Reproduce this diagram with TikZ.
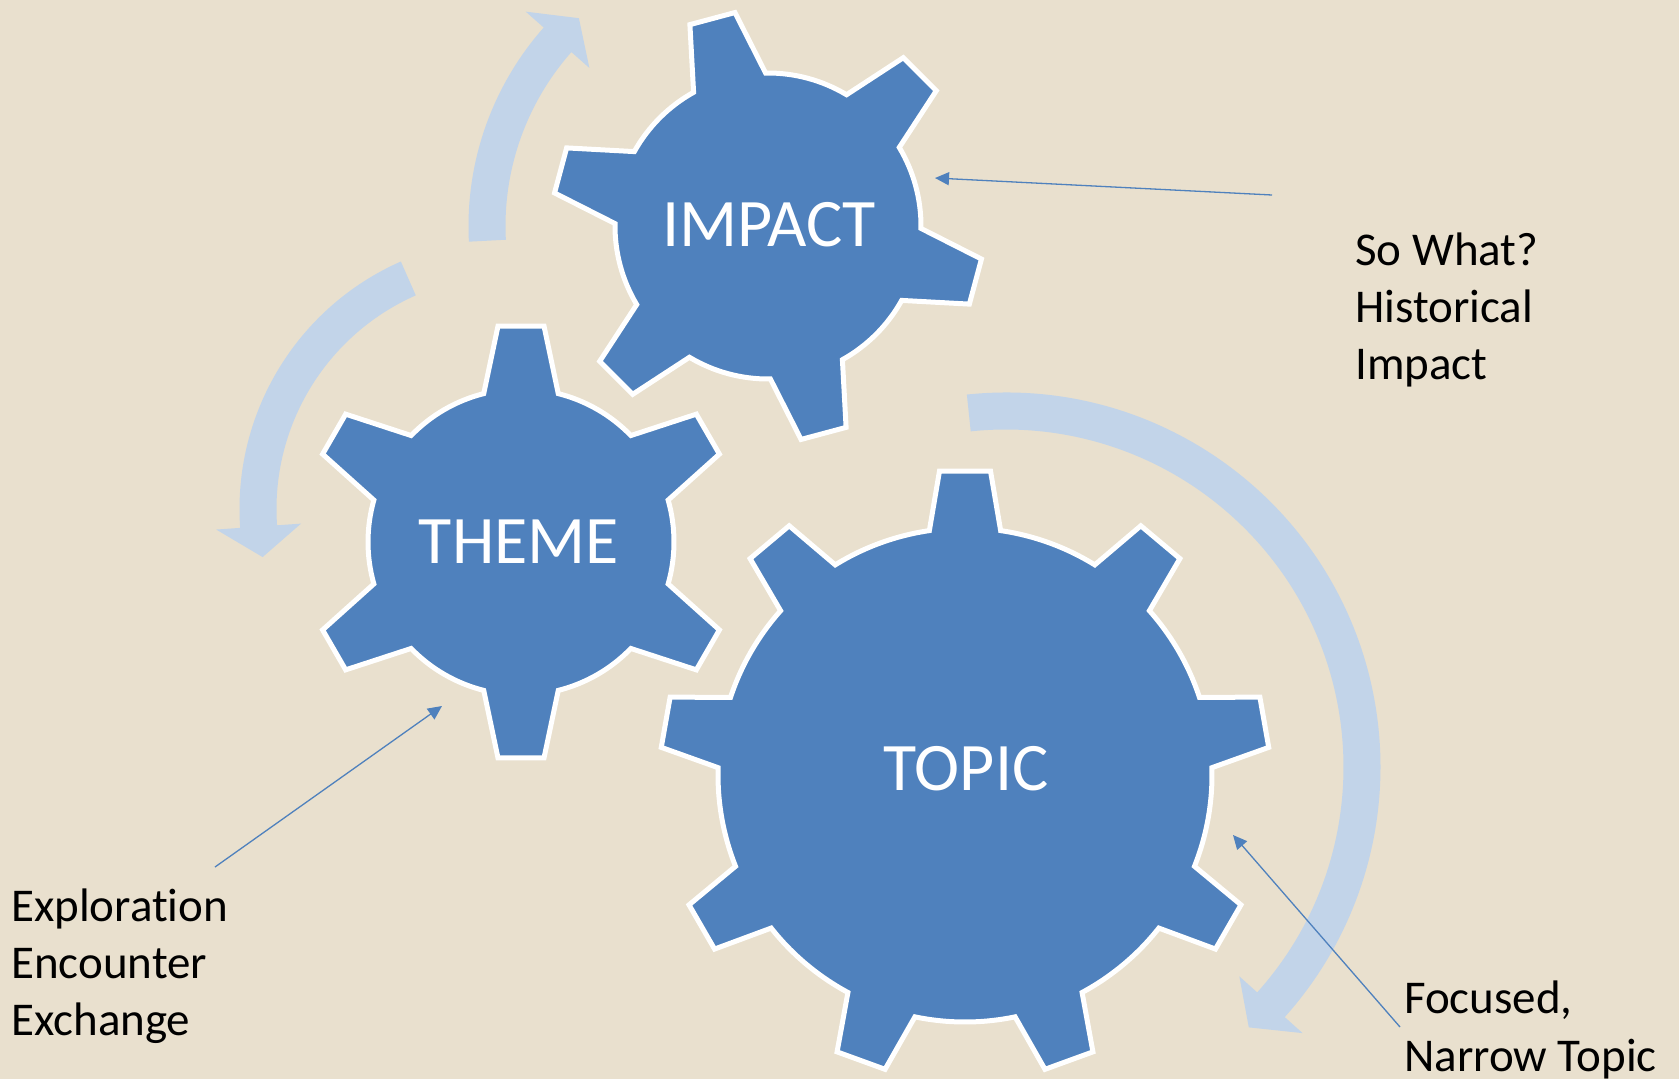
\documentclass[tikz,border=0pt]{standalone}
\usepackage{fontspec}
\setmainfont{Carlito}[RawFeature=-liga]
\usetikzlibrary{arrows.meta}
\definecolor{bgbeige}{HTML}{E9E0CE}
\definecolor{gearblue}{HTML}{4F81BD}
\definecolor{arrowlight}{HTML}{C2D4E9}

% gear: cx, cy (image px), teeth, first tooth angle, body radius, tip radius, base half-angle, tip half-angle
\newcommand{\gearshape}[8]{%
\begin{scope}[shift={(#1,-#2)}]
\filldraw[gearstyle] ({#4-#7}:#5)
  \foreach \k in {1,...,#3} {
    -- ({#4+(\k-1)*360/#3-#8}:#6) -- ({#4+(\k-1)*360/#3+#8}:#6)
    -- ({#4+(\k-1)*360/#3+#7}:#5)
    arc[start angle={#4+(\k-1)*360/#3+#7}, end angle={#4+\k*360/#3-#7}, radius={#5*1pt}]
  } -- cycle;
\end{scope}}

% curved arrow: cx, cy, radius, tail angle, head-base angle, tip angle
\newcommand{\curvedarrow}[6]{%
\begin{scope}[shift={(#1,-#2)}]
\fill[arrowlight] (#4:{#3+18.5}) arc[start angle=#4, end angle=#5, radius={(#3+18.5)*1pt}]
  -- (#5:{#3+42.5}) -- (#6:#3) -- (#5:{#3-42.5}) -- (#5:{#3-18.5})
  arc[start angle=#5, end angle=#4, radius={(#3-18.5)*1pt}] -- cycle;
\end{scope}}

\begin{document}
\begin{tikzpicture}[x=1pt,y=1pt,
  gearstyle/.style={fill=gearblue, draw=white, line width=5pt, line join=miter},
  gearlabel/.style={text=white, inner sep=0pt, font=\fontsize{68}{80}\selectfont},
  sidelabel/.style={text=black, inner sep=0pt, anchor=base west},
  conn/.style={draw=gearblue, line width=1.3pt, -{Triangle[length=14pt,width=13pt]}}]

\fill[bgbeige] (0,0) rectangle (1679,-1079);
\useasboundingbox (0,0) rectangle (1679,-1079);

% big light arrows
\curvedarrow{768}{226}{281}{183}{138.5}{132.3}
\curvedarrow{510}{509}{252}{113.8}{184}{191}
\curvedarrow{1006}{767}{356}{96}{-41.9}{-47}

% gears
\gearshape{768}{226}{6}{-15}{153}{216}{14.1}{6.2}
\gearshape{521}{542}{6}{30}{153}{217}{14.1}{6.1}
\gearshape{965}{775}{9}{10}{247}{305}{8.3}{4.8}

\node[gearlabel] (impact) at (769,-225) {IMPACT};
\node[gearlabel] (theme) at (519,-541.5) {THEME};
\node[gearlabel] (topic) at (966,-768.5) {TOPIC};

% side labels
\node[sidelabel, font=\fontsize{47}{57}\selectfont] (sowhat) at (1355,-265)
  {\begin{tabular}[t]{@{}l@{}}So What?\\Historical\\Impact\end{tabular}};
\node[sidelabel, font=\fontsize{47}{57}\selectfont] (explore) at (11,-921)
  {\begin{tabular}[t]{@{}l@{}}Exploration\\Encounter\\Exchange\end{tabular}};
\node[sidelabel, font=\fontsize{47}{58.7}\selectfont] (focused) at (1404,-1013)
  {\begin{tabular}[t]{@{}l@{}}Focused,\\Narrow Topic\end{tabular}};

% thin connectors
\coordinate (impactTail) at (1272,-195);
\coordinate (impactTip) at (935,-178);
\coordinate (themeTail) at (215,-867);
\coordinate (themeTip) at (442,-706);
\coordinate (topicTail) at (1400,-1027);
\coordinate (topicTip) at (1233,-835);
\draw[conn] (impactTail) -- (impactTip);
\draw[conn] (themeTail) -- (themeTip);
\draw[conn] (topicTail) -- (topicTip);
\end{tikzpicture}
\end{document}
